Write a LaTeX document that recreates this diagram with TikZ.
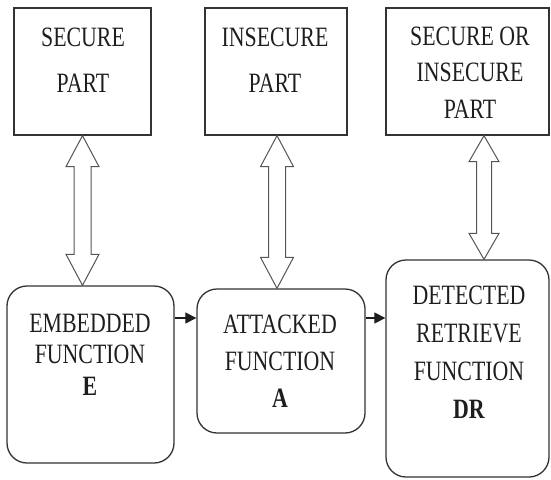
\documentclass[tikz,border=0pt]{standalone}
\usepackage{fontspec}
\usetikzlibrary{calc,arrows.meta}
\newfontfamily\labfont[FakeStretch=0.78]{Liberation Serif}
\definecolor{ink}{HTML}{1E1E1E}
\definecolor{linec}{HTML}{333333}
\definecolor{arrc}{HTML}{555555}
\newcommand\dblarr[5]{% top, bottom, shaft half, head half, head length
  \draw[dblarrow] (#1) -- ($(#1)+(#4,#5)$) -- ($(#1)+(#3,#5)$) -- ($(#2)+(#3,-#5)$)
   -- ($(#2)+(#4,-#5)$) -- (#2) -- ($(#2)+(-#4,-#5)$) -- ($(#2)+(-#3,-#5)$)
   -- ($(#1)+(-#3,#5)$) -- ($(#1)+(-#4,#5)$) -- cycle;}
\tikzset{
  part/.style={draw=linec, line width=1.3pt, rectangle, inner sep=0pt},
  func/.style={draw=linec, line width=1.3pt, rectangle, rounded corners=20pt, inner sep=0pt},
  lab/.style={text=ink, align=center, inner sep=0pt, anchor=base,
    font=\labfont\fontsize{28}{#1}\selectfont},
  dblarrow/.style={draw=arrc, line width=1pt, fill=white, line join=miter},
  flow/.style={draw=ink, line width=1.2pt, -{Triangle[length=11pt,width=11pt]}}
}
\begin{document}
\begin{tikzpicture}[x=1pt,y=-1pt]
\useasboundingbox (0,0) rectangle (551,479);
% upper boxes
\node[part, minimum width=137pt, minimum height=127pt] (s1) at (82.5,71.5) {};
\node[part, minimum width=142pt, minimum height=127pt] (s2) at (276,71.5) {};
\node[part, minimum width=163pt, minimum height=127pt] (s3) at (467.5,71.5) {};
% lower boxes
\node[func, minimum width=167pt, minimum height=177pt] (e) at (90.5,374.5) {};
\node[func, minimum width=168pt, minimum height=144pt] (a) at (281,361) {};
\node[func, minimum width=163pt, minimum height=217pt] (dr) at (467.5,368.5) {};
% labels
\node[lab=46pt] (s1t) at (83,92) {SECURE\\PART};
\node[lab=46pt] (s2t) at (275,92) {INSECURE\\PART};
\node[lab=36.5pt] (s3t) at (470,118) {SECURE OR\\INSECURE\\PART};
\node[lab=31.5pt] (et) at (90,395) {EMBEDDED\\FUNCTION\\\textbf{E}};
\node[lab=37pt] (at) at (280,407) {ATTACKED\\FUNCTION\\\textbf{A}};
\node[lab=37.7pt] (drt) at (469,418) {DETECTED\\RETRIEVE\\FUNCTION\\\textbf{DR}};
% double arrows
\coordinate (a1t) at (s1.south);
\coordinate (a1b) at (s1.south |- e.north);
\coordinate (a2t) at (277,0 |- s2.south);
\coordinate (a2b) at (a2t |- a.north);
\coordinate (a3t) at (484,0 |- s3.south);
\coordinate (a3b) at (a3t |- dr.north);
\dblarr{a1t}{a1b}{8.5}{16.5}{31}
\dblarr{a2t}{a2b}{8.5}{16.5}{31}
\dblarr{a3t}{a3b}{7.5}{15}{26}
% flow arrows
\coordinate (row) at (0,318);
\draw[flow] (e.east |- row) -- (a.west |- row);
\draw[flow] (a.east |- row) -- (dr.west |- row);
\end{tikzpicture}
\end{document}
